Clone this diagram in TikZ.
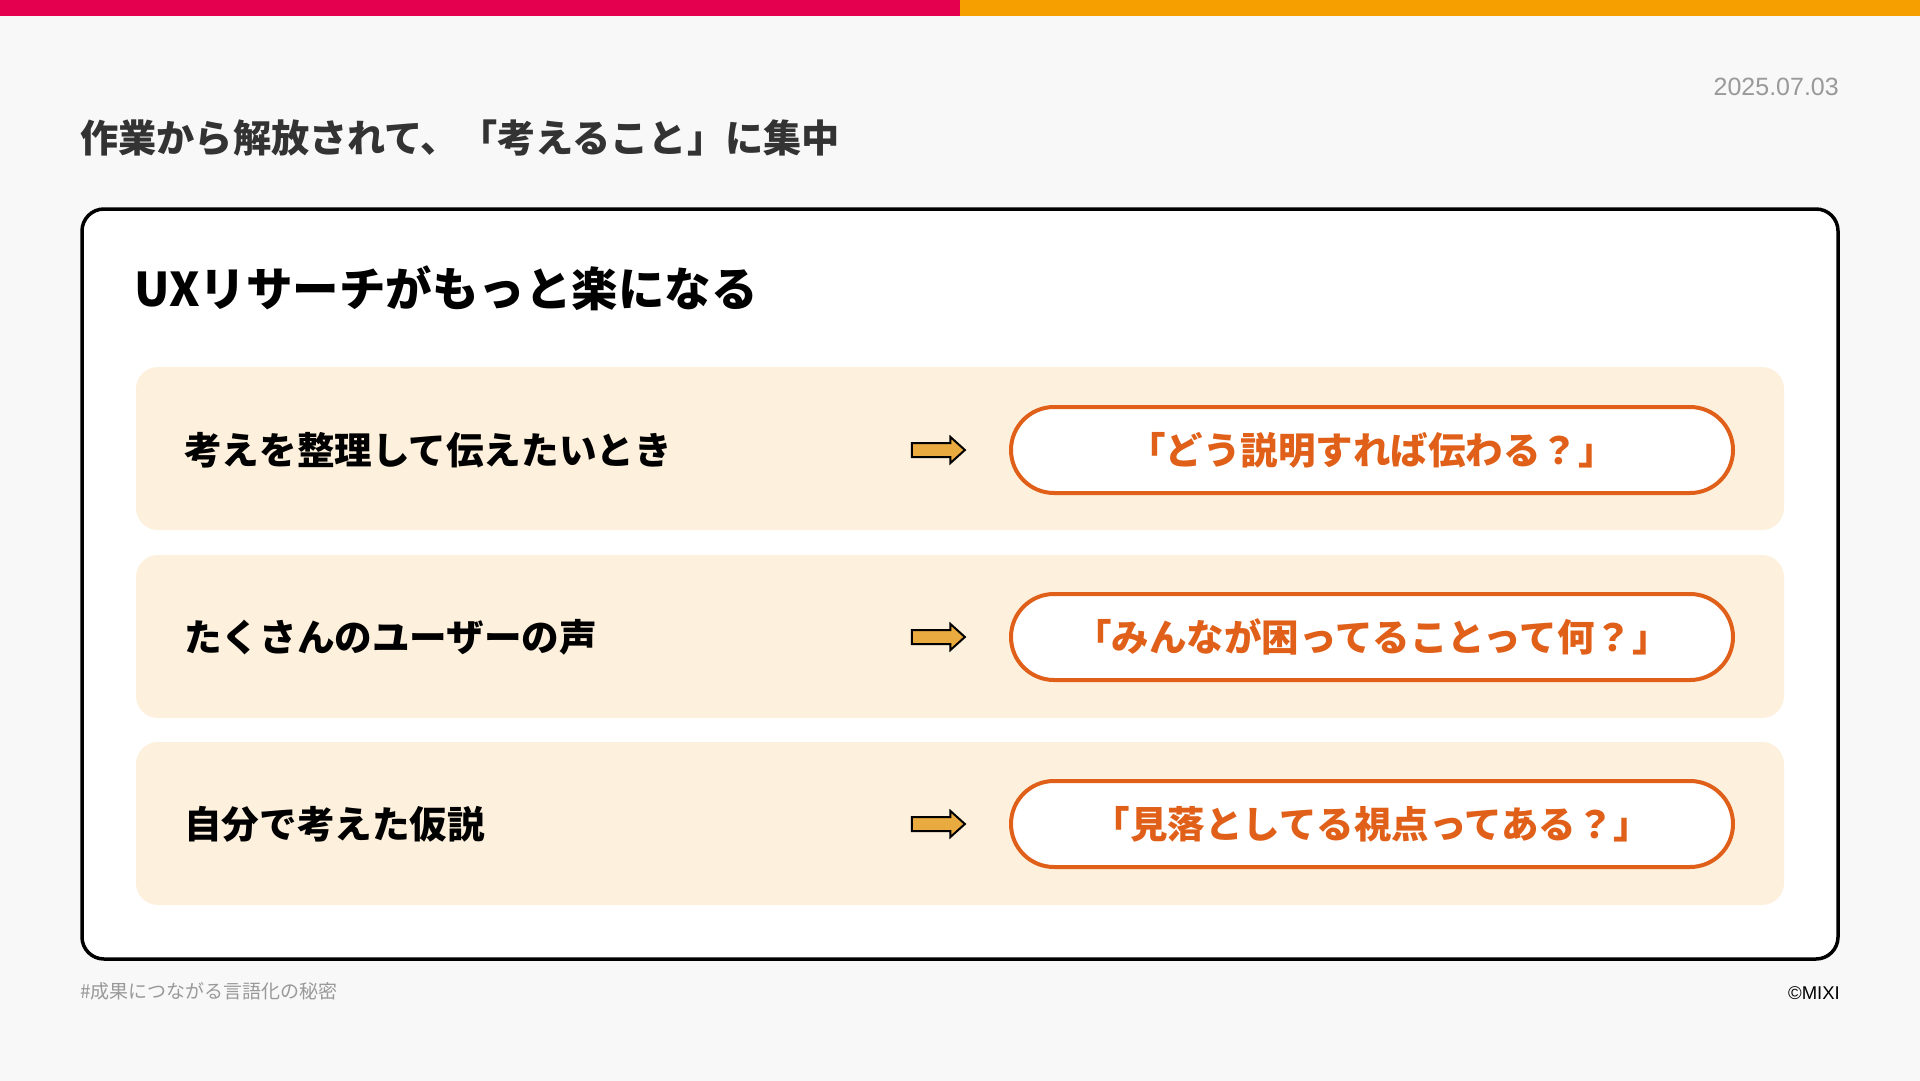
\documentclass[tikz,border=0pt]{standalone}
\usepackage{fontspec}
\setmainfont{Noto Sans CJK JP}
\newfontfamily\latinfont{Liberation Sans}
\usetikzlibrary{shapes.arrows}

\definecolor{pagebg}{HTML}{F8F8F8}
\definecolor{barred}{HTML}{E4004F}
\definecolor{barorange}{HTML}{F5A000}
\definecolor{rowbg}{HTML}{FDF1DD}
\definecolor{askline}{HTML}{E0601A}
\definecolor{arrowfill}{HTML}{E9AA3F}
\definecolor{titlegray}{HTML}{333333}
\definecolor{notegray}{HTML}{999999}

\begin{document}
\begin{tikzpicture}[x=1pt, y=-1pt,
  row/.style={rectangle, rounded corners=22pt, fill=rowbg, minimum width=1648pt, minimum height=163pt},
  lab/.style={anchor=west, inner sep=0pt, text=black, font=\bfseries\fontsize{37.6}{40}\selectfont},
  arr/.style={single arrow, draw=black, fill=arrowfill, line width=2pt, inner xsep=0pt, inner ysep=6pt,
    minimum height=53pt, single arrow head extend=6pt, single arrow tip angle=84},
  ask/.style={rectangle, rounded corners=43pt, draw=askline, line width=4pt, fill=white,
    minimum width=722pt, minimum height=86pt, text=askline, font=\bfseries\fontsize{37.5}{40}\selectfont}]
\useasboundingbox (0,0) rectangle (1920,1081);
\fill[pagebg] (0,0) rectangle (1920,1081);
\fill[barred] (0,0) rectangle (960,16);
\fill[barorange] (960,0) rectangle (1920,16);

\node[anchor=east, inner sep=0pt, text=notegray, font=\latinfont\fontsize{25}{28}\selectfont] (date) at (1839,87) {2025.07.03};
\node[anchor=west, inner sep=0pt, text=titlegray, font=\bfseries\fontsize{38.2}{40}\selectfont] (title) at (80,138) {作業から解放されて、「考えること」に集中};

\draw[line width=3.5pt, rounded corners=22pt, fill=white] (82,209) rectangle (1838,959);
\node[anchor=west, inner sep=0pt, font=\bfseries\fontsize{46.5}{50}\selectfont] (head) at (134,288) {UXリサーチがもっと楽になる};

\node[row] (row1) at (960,448.5) {};
\node[row] (row2) at (960,636.5) {};
\node[row] (row3) at (960,823.5) {};

\node[lab] (lab1) at (184,450) {考えを整理して伝えたいとき};
\node[lab] (lab2) at (184,637) {たくさんのユーザーの声};
\node[lab] (lab3) at (184,824) {自分で考えた仮説};

\node[arr] (arr1) at (934.5,450) {};
\node[arr] (arr2) at (934.5,637) {};
\node[arr] (arr3) at (934.5,824) {};

\node[ask] (ask1) at (1372,450) {「どう説明すれば伝わる？」};
\node[ask] (ask2) at (1372,637) {「みんなが困ってることって何？」};
\node[ask] (ask3) at (1372,824) {「見落としてる視点ってある？」};

\node[anchor=west, inner sep=0pt, text=notegray, font=\fontsize{19}{22}\selectfont] (tag) at (80,991) {\#成果につながる言語化の秘密};
\node[anchor=east, inner sep=0pt, font=\latinfont\fontsize{18.5}{20}\selectfont] (mark) at (1840,993) {©MIXI};
\end{tikzpicture}
\end{document}
